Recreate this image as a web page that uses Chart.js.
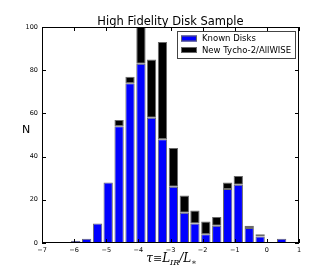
<!DOCTYPE html>
<html>
<head>
<meta charset="utf-8">
<script src="https://cdn.jsdelivr.net/npm/chart.js@4.4.0/dist/chart.umd.min.js"></script>
<style>
html,body{margin:0;padding:0;background:#fff;}
canvas{display:block;}
</style>
</head>
<body>
<canvas id="c" width="332" height="271"></canvas>
<script>
// ---- data ----
const binCenters = [-5.95, -5.61, -5.27, -4.94, -4.60, -4.26, -3.92, -3.59, -3.25, -2.91,
                    -2.57, -2.24, -1.90, -1.56, -1.22, -0.89, -0.55, -0.21, 0.12, 0.46];
const knownDisks = [1, 2, 9, 28, 54, 74, 83, 58, 48, 26, 14, 9, 4, 8, 25, 27, 7, 3, 0, 2];
const newTycho   = [0, 0, 0, 0, 3, 3, 17, 27, 45, 18, 8, 6, 6, 4, 3, 4, 1, 1, 0, 0];
const xTicks = [-7, -6, -5, -4, -3, -2, -1, 0, 1];
const yTicks = [0, 20, 40, 60, 80, 100];
const seriesNames = ['Known Disks', 'New Tycho-2/AllWISE'];
const titleText = 'High Fidelity Disk Sample';
const yLabelText = 'N';

const colors = ['#0000ff', '#000000'];

const decor = {
  id: 'decor',
  afterDraw(chart) {
    const ctx = chart.ctx;
    const a = chart.chartArea;
    const xs = chart.scales.x, ys = chart.scales.y;
    ctx.save();
    // frame
    ctx.strokeStyle = '#000';
    ctx.lineWidth = 1;
    ctx.strokeRect(Math.round(a.left) + 0.5, Math.round(a.top) + 0.5,
                   Math.round(a.right - a.left) - 1, Math.round(a.bottom - a.top) - 1);
    // inward ticks on all four sides
    ctx.beginPath();
    xTicks.forEach(v => {
      const px = Math.round(xs.getPixelForValue(v)) + 0.5;
      ctx.moveTo(px, a.bottom); ctx.lineTo(px, a.bottom - 4);
      ctx.moveTo(px, a.top); ctx.lineTo(px, a.top + 4);
    });
    yTicks.forEach(v => {
      const py = Math.round(ys.getPixelForValue(v)) + 0.5;
      ctx.moveTo(a.left, py); ctx.lineTo(a.left + 4, py);
      ctx.moveTo(a.right, py); ctx.lineTo(a.right - 4, py);
    });
    ctx.stroke();

    // title
    ctx.fillStyle = '#000';
    ctx.font = '11.5px "DejaVu Sans"';
    ctx.textAlign = 'center';
    ctx.textBaseline = 'alphabetic';
    ctx.fillText(titleText, (a.left + a.right) / 2, 24.5);

    // y label
    ctx.font = '11px "DejaVu Sans"';
    ctx.textBaseline = 'middle';
    ctx.fillText(yLabelText, 26, 130);

    // x label: tau = L_IR / L_*
    const cx = (a.left + a.right) / 2 + 1;
    const base = 262;
    const parts = [
      {t: 'τ', f: 'italic 12px "DejaVu Serif"', dy: 0},
      {t: '≡', f: '11px "DejaVu Serif"', dy: 0},
      {t: 'L', f: 'italic 12px "DejaVu Serif"', dy: 0},
      {t: 'IR', f: 'italic 8px "DejaVu Serif"', dy: 2.5},
      {t: '/', f: 'italic 12px "DejaVu Serif"', dy: 0},
      {t: 'L', f: 'italic 12px "DejaVu Serif"', dy: 0},
      {t: '∗', f: '8px "DejaVu Serif"', dy: 2.5}
    ];
    ctx.textAlign = 'left';
    ctx.textBaseline = 'alphabetic';
    let total = 0;
    parts.forEach(p => { ctx.font = p.f; p.w = ctx.measureText(p.t).width; total += p.w; });
    let x = cx - total / 2;
    parts.forEach(p => { ctx.font = p.f; ctx.fillText(p.t, x, base + p.dy); x += p.w; });

    // legend
    const lx = 177, ly = 31, lw = 118, lh = 27;
    ctx.fillStyle = '#fff';
    ctx.fillRect(lx, ly, lw, lh);
    ctx.strokeStyle = '#444';
    ctx.strokeRect(lx + 0.5, ly + 0.5, lw, lh);
    ctx.font = '8.5px "DejaVu Sans"';
    ctx.textBaseline = 'middle';
    seriesNames.forEach((name, i) => {
      const yy = ly + 7.5 + i * 11.5;
      ctx.fillStyle = colors[i];
      ctx.fillRect(lx + 4, yy - 3, 16, 6);
      ctx.strokeStyle = '#666';
      ctx.strokeRect(lx + 4.5, yy - 2.5, 15, 5);
      ctx.fillStyle = '#000';
      ctx.fillText(name, lx + 25, yy + 0.5);
    });
    ctx.restore();
  }
};

const datasets = [knownDisks, newTycho].map((vals, i) => ({
  label: seriesNames[i],
  data: binCenters.map((c, k) => ({x: c, y: vals[k]})),
  backgroundColor: colors[i],
  borderColor: '#6a6a6a',
  borderWidth: 1,
  borderSkipped: false,
  barPercentage: 0.88,
  categoryPercentage: 1.0
}));

new Chart(document.getElementById('c'), {
  type: 'bar',
  data: { datasets },
  options: {
    responsive: false,
    animation: false,
    devicePixelRatio: 1,
    layout: { padding: { left: 0, top: 27, right: 33, bottom: 0 } },
    plugins: { legend: { display: false }, title: { display: false }, tooltip: { enabled: false } },
    scales: {
      x: {
        type: 'linear',
        stacked: true,
        offset: false,
        min: -7, max: 1,
        afterBuildTicks(scale) { scale.ticks = xTicks.map(v => ({value: v})); },
        afterFit(scale) { scale.height = 28; },
        grid: { display: false, drawTicks: false },
        border: { display: false },
        ticks: {
          padding: 3,
          color: '#000',
          font: { family: 'DejaVu Sans', size: 6.5 },
          maxRotation: 0,
          autoSkip: false,
          callback: v => String(v).replace('-', '\u2212')
        }
      },
      y: {
        stacked: true,
        min: 0, max: 100,
        afterBuildTicks(scale) { scale.ticks = yTicks.map(v => ({value: v})); },
        afterFit(scale) { scale.width = 42; },
        grid: { display: false, drawTicks: false },
        border: { display: false },
        ticks: {
          padding: 4,
          color: '#000',
          font: { family: 'DejaVu Sans', size: 6.5 },
          autoSkip: false
        }
      }
    }
  },
  plugins: [decor]
});
</script>
</body>
</html>
